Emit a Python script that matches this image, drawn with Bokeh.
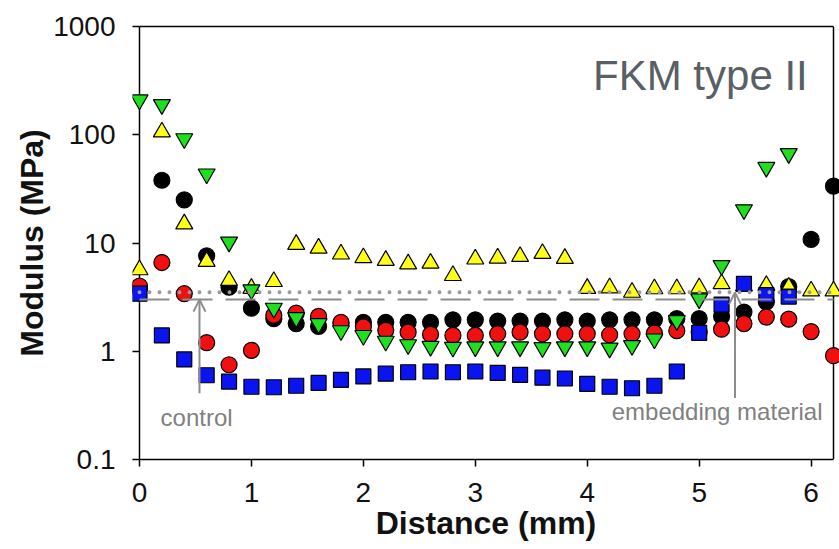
import math
from bokeh.plotting import figure
from bokeh.models import Range1d, FixedTicker, Label, Arrow, OpenHead, LinearAxis
from bokeh.embed import file_html
from bokeh.resources import INLINE

nan = float("nan")

# ---------------- data ----------------
distance = [0.0, 0.2, 0.4, 0.6, 0.8, 1.0, 1.2, 1.4, 1.6, 1.8,
            2.0, 2.2, 2.4, 2.6, 2.8, 3.0, 3.2, 3.4, 3.6, 3.8,
            4.0, 4.2, 4.4, 4.6, 4.8, 5.0, 5.2, 5.4, 5.6, 5.8,
            6.0, 6.2]

black = [3.8, 38.0, 25.0, 7.6, 3.9, 2.5, 2.0, 1.8, 1.7, 1.8,
         1.85, 1.85, 1.85, 1.85, 1.95, 1.95, 1.9, 1.9, 1.9, 1.95,
         1.9, 1.95, 1.95, 1.95, 2.0, 2.0, 2.1, 2.3, 2.85, 3.95,
         10.8, 33.5]

red = [4.0, 6.6, 3.4, 1.2, 0.75, 1.02, 2.15, 2.25, 2.1, 1.85,
       1.68, 1.56, 1.5, 1.43, 1.4, 1.4, 1.45, 1.5, 1.45, 1.45,
       1.45, 1.42, 1.45, 1.47, 1.55, 1.5, 1.6, 1.8, 2.07, 1.98,
       1.52, 0.91]

yellow = [5.65, 106.0, 15.0, 6.75, 4.5, 3.8, 4.4, 9.7, 8.95, 7.9,
          7.3, 6.9, 6.4, 6.5, 5.0, 7.1, 7.25, 7.5, 8.0, 7.2,
          3.8, 3.85, 3.5, 3.77, 3.77, 3.85, 4.2, 4.0, 4.05, 3.9,
          3.6, 3.6]

green = [210.0, 190.0, 92.0, 43.5, 10.2, 3.7, 2.5, 2.05, 1.8, 1.55,
         1.4, 1.24, 1.15, 1.11, 1.09, 1.1, 1.1, 1.1, 1.08, 1.1,
         1.1, 1.07, 1.13, 1.3, 1.92, 3.05, 6.2, 20.3, 50.0, 67.0,
         nan, nan]

blue = [3.4, 1.4, 0.84, 0.6, 0.525, 0.47, 0.465, 0.48, 0.51, 0.545,
        0.585, 0.62, 0.64, 0.65, 0.64, 0.65, 0.63, 0.605, 0.57, 0.56,
        0.5, 0.47, 0.455, 0.48, 0.65, 1.48, 2.7, 4.2, 3.3, 3.2,
        nan, nan]

embedding_modulus = 3.5   # dotted reference line
control_modulus = 3.0     # dashed reference line

X_MIN, X_MAX = 0.0, 6.2
Y_MIN, Y_MAX = 0.1, 1000.0
x_ticks = [0, 1, 2, 3, 4, 5, 6]
y_ticks = [0.1, 1, 10, 100, 1000]
y_tick_labels = ["0.1", "1", "10", "100", "1000"]

# ---------------- figure ----------------
PX_PER_MM = 112.0
PAD_LEFT_PX = 7
PAD_RIGHT_PX = 6

FONT = "Liberation Sans"
GRAY = "#8c8c8c"

p = figure(width=839, height=549,
           x_range=Range1d(X_MIN - PAD_LEFT_PX / PX_PER_MM, X_MAX + PAD_RIGHT_PX / PX_PER_MM),
           y_range=Range1d(Y_MIN, Y_MAX),
           y_axis_type="log",
           output_backend="svg", toolbar_location=None,
           min_border_left=132, min_border_right=0,
           min_border_top=26, min_border_bottom=90)

p.xgrid.visible = False
p.ygrid.visible = False
p.outline_line_color = None
p.background_fill_color = "white"
p.border_fill_color = "white"

# bottom axis
xa = p.below[0]
xa.ticker = FixedTicker(ticks=x_ticks)
xa.bounds = (X_MIN, X_MAX)
xa.axis_line_color = "black"
xa.axis_line_width = 1.5
xa.major_tick_line_color = "black"
xa.major_tick_line_width = 1.5
xa.major_tick_out = 7
xa.major_tick_in = 0
xa.minor_tick_line_color = None
xa.major_label_text_font = FONT
xa.major_label_text_font_size = "28px"
xa.major_label_text_color = "#111111"
xa.major_label_standoff = 16
xa.axis_label = "Distance (mm)"
xa.axis_label_text_font = FONT
xa.axis_label_text_font_style = "bold"
xa.axis_label_text_font_size = "32px"
xa.axis_label_text_color = "#111111"
xa.axis_label_standoff = 0

# left axis
ya = p.left[0]
ya.ticker = FixedTicker(ticks=y_ticks)
ya.major_label_overrides = {t: s for t, s in zip(y_ticks, y_tick_labels)}
ya.axis_line_color = None
ya.major_tick_line_color = "black"
ya.major_tick_line_width = 1.5
ya.major_tick_in = PAD_LEFT_PX
ya.major_tick_out = 0
ya.minor_tick_line_color = None
ya.major_label_text_font = FONT
ya.major_label_text_font_size = "28px"
ya.major_label_text_color = "#111111"
ya.major_label_standoff = 17
ya.axis_label = "Modulus (MPa)"
ya.axis_label_text_font = FONT
ya.axis_label_text_font_style = "bold"
ya.axis_label_text_font_size = "32px"
ya.axis_label_text_color = "#111111"
ya.axis_label_standoff = 0

# top border as a bare axis
top = LinearAxis(ticker=FixedTicker(ticks=[]), bounds=(X_MIN, X_MAX),
                 axis_line_color="black", axis_line_width=1.5,
                 major_tick_line_color=None, minor_tick_line_color=None,
                 major_label_text_font_size="0px")
p.add_layout(top, "above")

# left / right border lines
p.segment(x0=[X_MIN, X_MAX], y0=[Y_MIN, Y_MIN], x1=[X_MIN, X_MAX], y1=[Y_MAX, Y_MAX],
          line_color="black", line_width=1.5)

# ---------------- series ----------------
common = dict(line_color="black", line_width=1.2)
p.scatter(distance, black, marker="circle", size=16, fill_color="black", **common)
p.scatter(distance, red, marker="circle", size=16, fill_color="#f01010", **common)
p.scatter(distance, yellow, marker="triangle", size=17, fill_color="#ffff1a", **common)
p.scatter(distance, green, marker="inverted_triangle", size=17, fill_color="#1ee01e", **common)
p.scatter(distance, blue, marker="square", size=15, fill_color="#0a14f0", **common)

# reference lines
p.line([X_MIN, X_MAX], [embedding_modulus, embedding_modulus],
       line_color="#9a9a9a", line_width=4, line_dash="0 10", line_cap="round")
p.line([X_MIN, X_MAX], [control_modulus, control_modulus],
       line_color=GRAY, line_width=2, line_dash="30 13")

# annotations
p.add_layout(Arrow(end=OpenHead(size=12, line_color=GRAY, line_width=2),
                   x_start=0.536, y_start=0.41, x_end=0.536, y_end=control_modulus,
                   line_color=GRAY, line_width=2))
p.add_layout(Arrow(end=OpenHead(size=12, line_color=GRAY, line_width=2),
                   x_start=5.32, y_start=0.37, x_end=5.32, y_end=embedding_modulus,
                   line_color=GRAY, line_width=2))

p.add_layout(Label(x=0.51, y=0.242, text="control", text_align="center",
                   text_baseline="middle", text_font=FONT,
                   text_font_size="24px", text_color="#808080"))
p.add_layout(Label(x=5.16, y=0.276, text="embedding material", text_align="center",
                   text_baseline="middle", text_font=FONT,
                   text_font_size="24px", text_color="#808080"))
p.add_layout(Label(x=5.97, y=352, text="FKM type II", text_align="right",
                   text_baseline="middle", text_font=FONT,
                   text_font_size="42px", text_color="#5a5f66"))

open("out.html", "w").write(file_html(p, INLINE))
